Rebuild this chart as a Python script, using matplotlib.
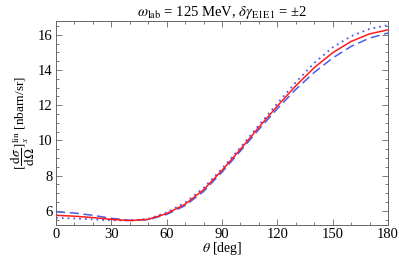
import numpy as np
import matplotlib
matplotlib.use("Agg")
import matplotlib.pyplot as plt
from matplotlib.ticker import MultipleLocator

plt.rcParams['font.family'] = ['Liberation Serif', 'DejaVu Serif']
plt.rcParams['mathtext.fontset'] = 'stix'

# scattering angle [deg]
theta = [0, 10, 20, 30, 40, 50, 60, 70, 80, 90, 100, 110, 120, 130, 140, 150, 160, 170, 180]

# central value (red solid)
central = [5.75, 5.70, 5.62, 5.52, 5.45, 5.52, 5.85, 6.38, 7.20, 8.30, 9.50, 10.75, 11.95,
           13.10, 14.13, 14.98, 15.62, 16.05, 16.28]
# dgamma = +2 (blue dashed)
plus2 = [5.95, 5.88, 5.75, 5.58, 5.47, 5.50, 5.80, 6.30, 7.10, 8.20, 9.40, 10.63, 11.80,
         12.90, 13.86, 14.68, 15.34, 15.81, 16.10]
# dgamma = -2 (blue dotted)
minus2 = [5.60, 5.57, 5.52, 5.47, 5.45, 5.55, 5.91, 6.47, 7.30, 8.40, 9.60, 10.87, 12.10,
          13.30, 14.40, 15.28, 15.92, 16.33, 16.55]

fig = plt.figure(figsize=(3.99, 2.58), dpi=100)
ax = fig.add_axes([0.1404, 0.1279, 0.832, 0.792])

ax.plot(theta, minus2, color='#4a5cf0', linestyle=(0, (1, 2.2)), linewidth=1.3)
ax.plot(theta, plus2, color='#4a5cf0', linestyle=(0, (6, 3)), linewidth=1.1)
ax.plot(theta, central, color='#ff1a1a', linewidth=1.1)

ax.set_xlim(0, 180)
ax.set_ylim(5.2, 16.8)
ax.xaxis.set_major_locator(MultipleLocator(30))
ax.xaxis.set_minor_locator(MultipleLocator(10))
ax.yaxis.set_major_locator(MultipleLocator(2))
ax.yaxis.set_minor_locator(MultipleLocator(0.5))
ax.tick_params(which='both', direction='in', top=True, right=True, labelsize=10.5,
               color='#666666', width=0.6, pad=2.5)
ax.tick_params(which='major', length=4)
ax.tick_params(which='minor', length=2)
for s in ax.spines.values():
    s.set_color('#666666')
    s.set_linewidth(0.7)

ax.set_xlabel(r'$\theta$ [deg]', fontsize=10, labelpad=-1)
ax.set_ylabel(r'$[\dfrac{\mathrm{d}\sigma}{\mathrm{d}\Omega}]^{\mathrm{lin}}_{x}$ [nbarn/sr]',
              fontsize=9.5, labelpad=1)
ax.set_title(r'$\omega_{\mathrm{lab}}$ = 125 MeV, $\delta\gamma_{\mathrm{E1E1}}$ = ±2',
             fontsize=10.5, pad=3)

fig.savefig('out.png', dpi=100)
